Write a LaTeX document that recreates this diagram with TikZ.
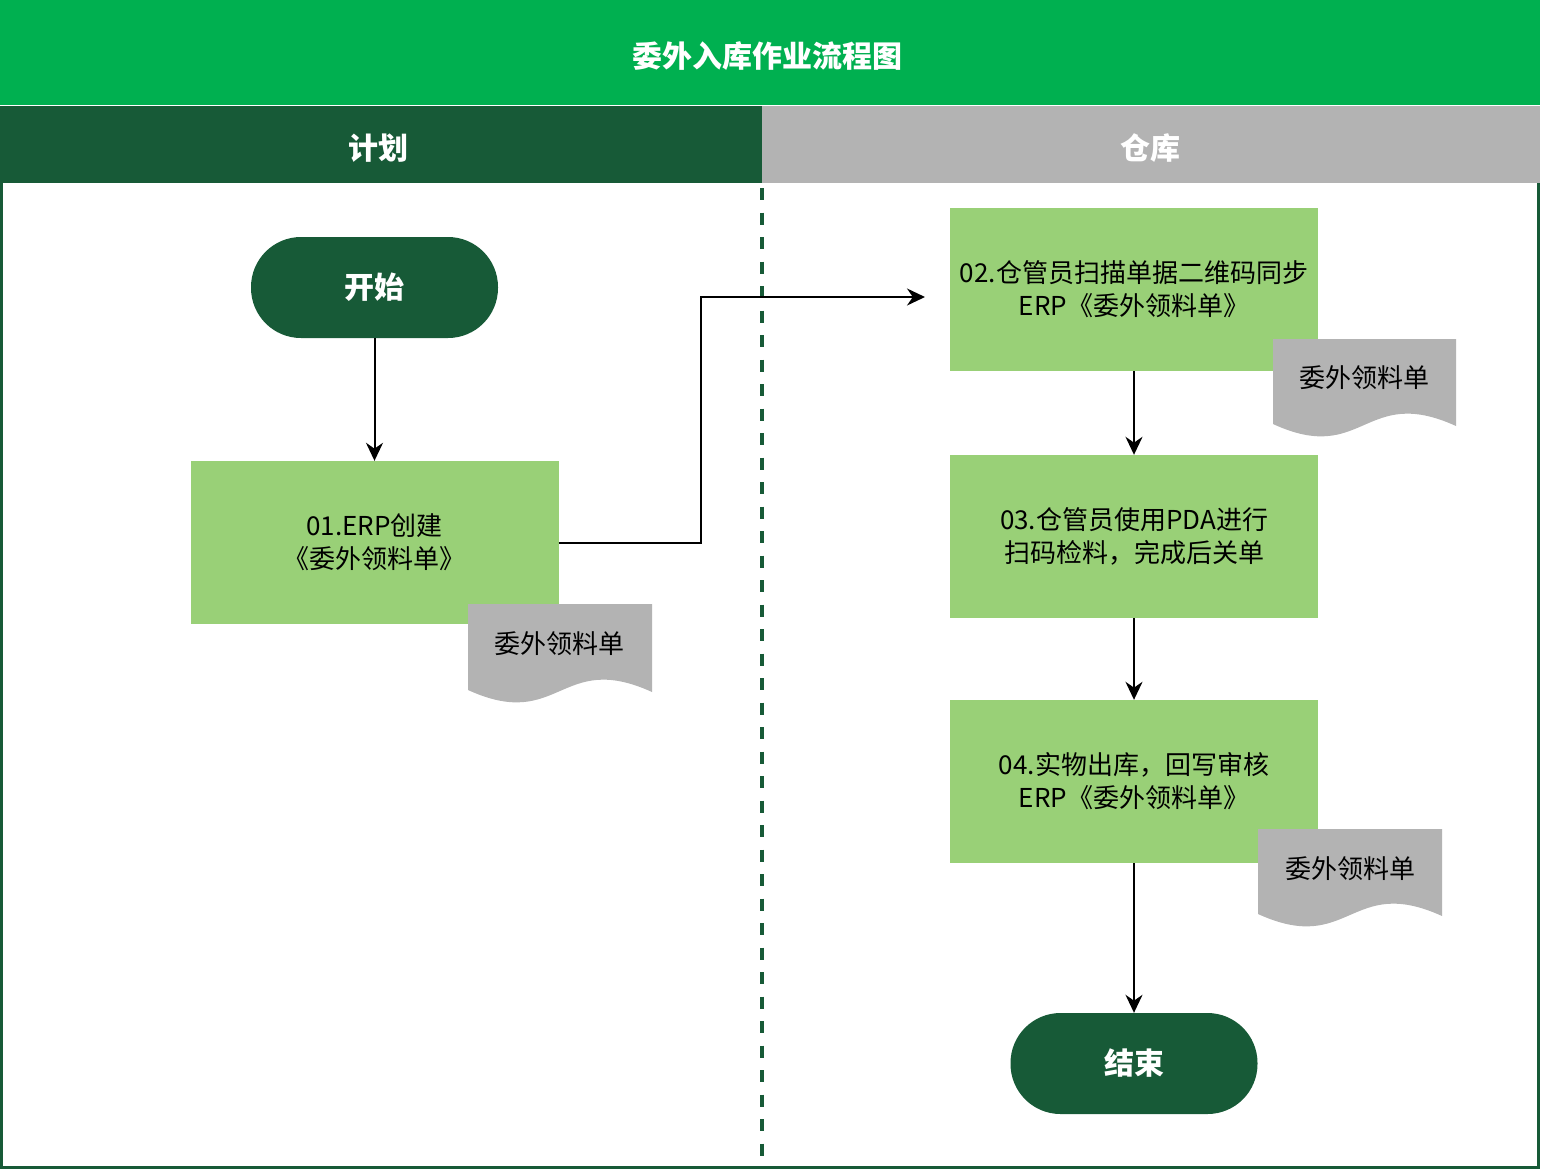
\documentclass[tikz,border=0pt]{standalone}
\usepackage{fontspec}
\setmainfont{Noto Sans CJK SC}
\usetikzlibrary{arrows.meta,calc}
\definecolor{titlegreen}{HTML}{00B050}
\definecolor{darkgreen}{HTML}{175A37}
\definecolor{lightgreen}{HTML}{99D077}
\definecolor{docgray}{HTML}{B3B3B3}
\begin{document}
\begin{tikzpicture}[x=1pt,y=-1pt,
  procbox/.style={fill=lightgreen,draw=none,minimum width=368pt,minimum height=163pt,inner sep=0pt,align=center,font=\fontsize{26}{33}\selectfont},
  term/.style={fill=darkgreen,draw=none,rounded corners=50pt,minimum width=247pt,minimum height=101pt,inner sep=0pt,text=white,font=\fontsize{30}{36}\selectfont\bfseries},
  doctext/.style={inner sep=0pt,font=\fontsize{26}{33}\selectfont},
  lanetitle/.style={inner sep=0pt,text=white,font=\fontsize{30}{36}\selectfont\bfseries},
  arr/.style={draw=black,line width=2pt,-{Stealth[length=18pt,width=17pt]}}
]
\useasboundingbox (0,0) rectangle (1542,1171);
% title band and lane headers
\fill[titlegreen] (0,0) rectangle (1540,105);
\fill[darkgreen] (0,106) rectangle (762,183);
\fill[docgray] (762,106) rectangle (1540,183);
\node[lanetitle] (title) at (767,56) {委外入库作业流程图};
\node[lanetitle] (lane1) at (378,148) {计划};
\node[lanetitle] (lane2) at (1150,148) {仓库};
% frame and divider
\draw[darkgreen,line width=3pt] (1.5,183) -- (1.5,1167.5) -- (1538.5,1167.5) -- (1538.5,183);
\draw[darkgreen,line width=4pt,dash pattern=on 12pt off 12.5pt] (762,188) -- (762,1166);
% nodes
\node[term] (start) at (374.5,287.5) {开始};
\node[procbox] (box01) at (374.5,542.5) {01.ERP创建\\《委外领料单》};
\node[procbox] (box02) at (1134,289.5) {02.仓管员扫描单据二维码同步\\ERP《委外领料单》};
\node[procbox] (box03) at (1134,536.5) {03.仓管员使用PDA进行\\扫码检料，完成后关单};
\node[procbox] (box04) at (1134,781.5) {04.实物出库，回写审核\\ERP《委外领料单》};
\node[term] (end) at (1134,1063.5) {结束};
% documents
\fill[docgray] (468,604) -- (652,604) -- (652,692) .. controls (560,650) and (560,732) .. (468,690) -- cycle;
\node[doctext] (doc1) at (559,644) {委外领料单};
\fill[docgray] (1273,339) -- (1456,339) -- (1456,426) .. controls (1364,384) and (1364,466) .. (1273,424) -- cycle;
\node[doctext] (doc2) at (1364,378) {委外领料单};
\fill[docgray] (1258,829) -- (1442,829) -- (1442,916) .. controls (1350,874) and (1350,956) .. (1258,914) -- cycle;
\node[doctext] (doc3) at (1350,869) {委外领料单};
% connectors
\coordinate (a2) at (925,297);
\draw[arr] (start) -- (box01);
\draw[arr] (box01.east) -- ++(142,0) |- (a2);
\draw[arr] (box02) -- (box03);
\draw[arr] (box03) -- (box04);
\draw[arr] (box04) -- (end);
\end{tikzpicture}
\end{document}
